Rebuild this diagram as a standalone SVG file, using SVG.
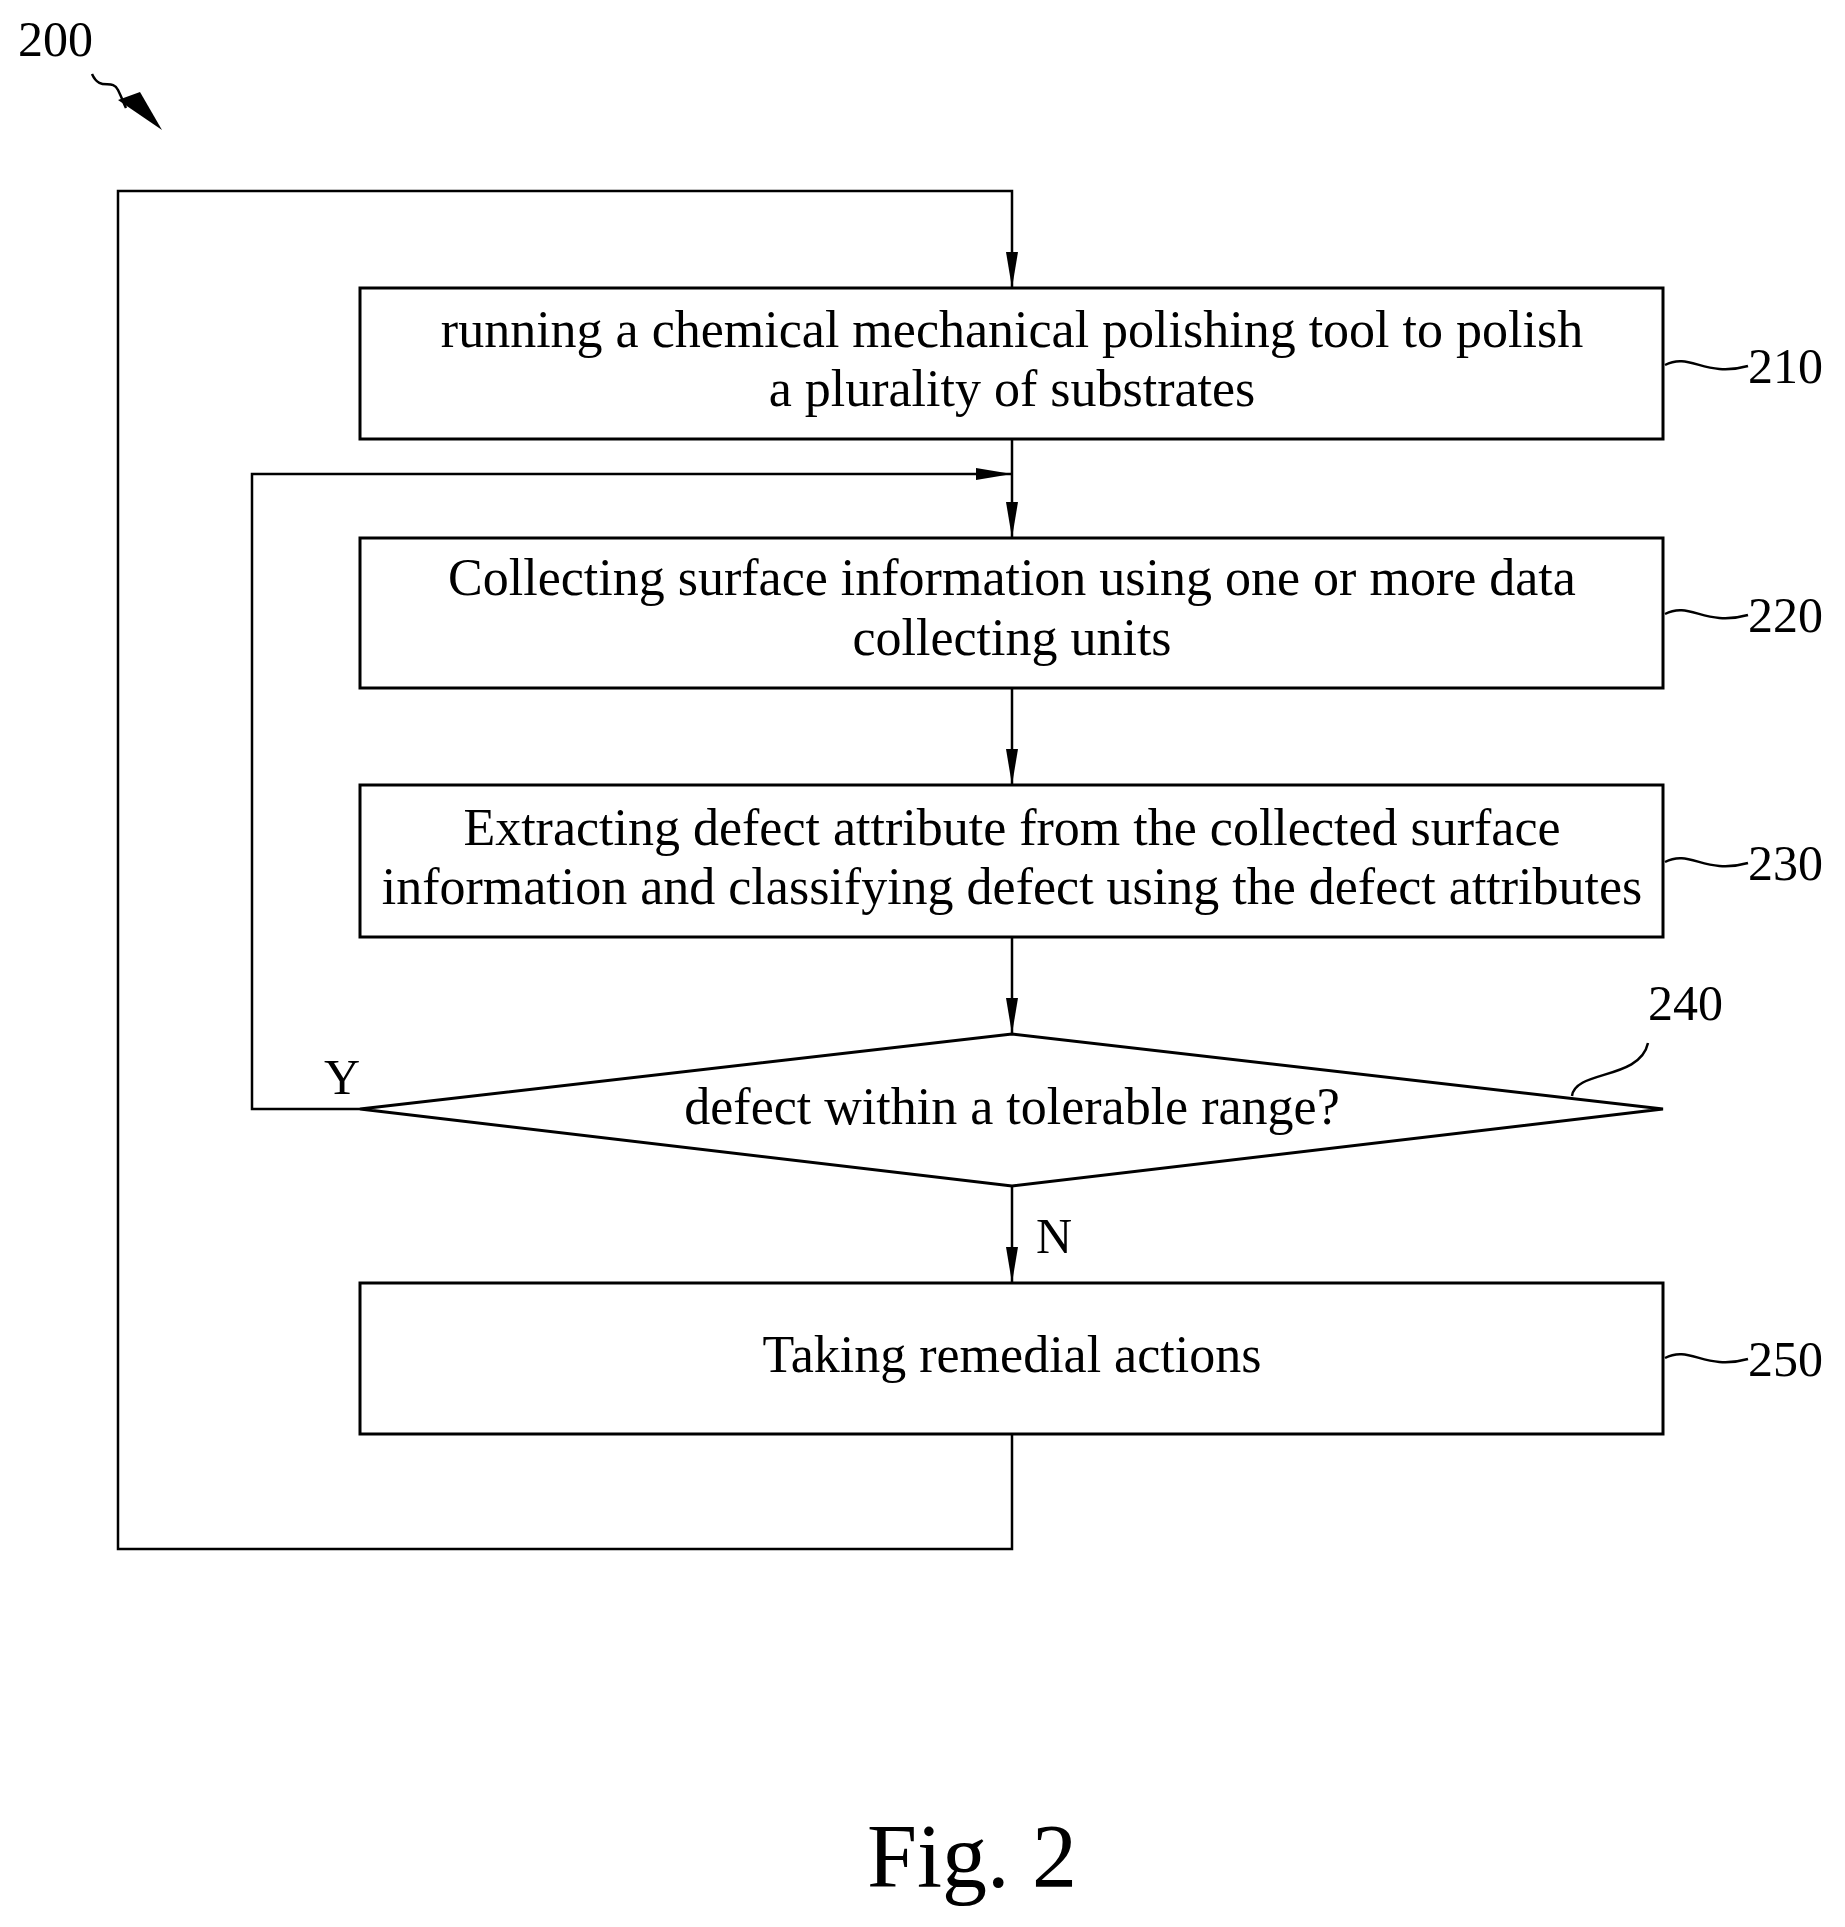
<svg xmlns="http://www.w3.org/2000/svg" width="1845" height="1927" viewBox="0 0 1845 1927">
<style>
text{font-family:"Liberation Serif",serif;fill:#000}
.t{font-size:52px;text-anchor:middle}
.n{font-size:50px}
.b{fill:#fff;stroke:#000;stroke-width:3}
.c{fill:none;stroke:#000;stroke-width:2.5}
</style>
<defs><marker id="a" markerWidth="36" markerHeight="12" refX="36" refY="6" orient="auto" markerUnits="userSpaceOnUse" viewBox="0 0 36 12"><path d="M0,0 L36,6 L0,12 Z" fill="#000"/></marker></defs>
<rect width="1845" height="1927" fill="#fff"/>
<text class="n" x="18" y="56">200</text>
<path d="M92,74 C100,92 112,78 118,90 C122,98 124,104 126,108" class="c"/>
<path d="M118,100 L162,130 L140,92 Z" fill="#000"/>
<g id="connectors">
<path class="c" d="M1012,1434 V1549 H118 V191 H1012 V288" marker-end="url(#a)"/>
<path class="c" d="M1012,439 V538" marker-end="url(#a)"/>
<path class="c" d="M360,1109 H252 V474 H1012" marker-end="url(#a)"/>
<path class="c" d="M1012,688 V785" marker-end="url(#a)"/>
<path class="c" d="M1012,937 V1034" marker-end="url(#a)"/>
<path class="c" d="M1012,1186 V1283" marker-end="url(#a)"/>
<text class="n" x="324" y="1094">Y</text>
<text class="n" x="1036" y="1253">N</text>
</g>
<g id="n210"><rect class="b" x="360" y="288" width="1303" height="151"/>
<text class="t" x="1012" y="347">running a chemical mechanical polishing tool to polish</text>
<text class="t" x="1012" y="406">a plurality of substrates</text>
<path class="c" d="M1665,365 C1690,352 1705,378 1748,366"/><text class="n" x="1748" y="383">210</text></g>
<g id="n220"><rect class="b" x="360" y="538" width="1303" height="150"/>
<text class="t" x="1012" y="595">Collecting surface information using one or more data</text>
<text class="t" x="1012" y="655">collecting units</text>
<path class="c" d="M1665,614 C1690,601 1705,627 1748,615"/><text class="n" x="1748" y="632">220</text></g>
<g id="n230"><rect class="b" x="360" y="785" width="1303" height="152"/>
<text class="t" x="1012" y="845">Extracting defect attribute from the collected surface</text>
<text class="t" x="1012" y="904">information and classifying defect using the defect attributes</text>
<path class="c" d="M1665,862 C1690,849 1705,875 1748,863"/><text class="n" x="1748" y="880">230</text></g>
<g id="n240"><path class="b" d="M1012,1034 L1663,1109 L1012,1186 L360,1109 Z"/>
<text class="t" x="1012" y="1124">defect within a tolerable range?</text>
<path class="c" d="M1572,1096 C1575,1070 1640,1080 1648,1043"/><text class="n" x="1648" y="1020">240</text></g>
<g id="n250"><rect class="b" x="360" y="1283" width="1303" height="151"/>
<text class="t" x="1012" y="1372">Taking remedial actions</text>
<path class="c" d="M1665,1358 C1690,1345 1705,1371 1748,1359"/><text class="n" x="1748" y="1376">250</text></g>
<text x="972" y="1887" style="font-size:90px;text-anchor:middle">Fig. 2</text>
</svg>
